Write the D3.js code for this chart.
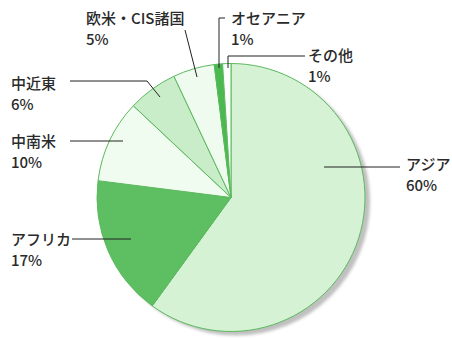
<!DOCTYPE html>
<html>
<head>
<meta charset="utf-8">
<script src="https://cdn.jsdelivr.net/npm/d3@7"></script>
<style>
  body { margin: 0; background: #fff; }
  svg { display: block; }
  text { font-family: "Noto Sans CJK JP", sans-serif; font-size: 15px; font-weight: 500; fill: #2a2a2a; }
</style>
</head>
<body>
<div id="chart"></div>
<script>
var regions = ["アジア", "アフリカ", "中南米", "中近東", "欧米・CIS諸国", "オセアニア", "その他"];
var shares = [60, 17, 10, 6, 5, 1, 1];
var fills = ["#d5f2d5", "#5ebf62", "#f0fcf0", "#c8edc8", "#eefbee", "#4cb850", "#fbfffb"];

// label placement: text position and leader points (screen px)
var labelLayout = [
  {x: 406, y: 170, line: [[400, 167], [324, 167]]},
  {x: 11, y: 245, line: [[72, 239], [131, 239]]},
  {x: 11, y: 147, line: [[70, 141], [123, 141]]},
  {x: 11, y: 89, line: [[70, 81], [147, 81], [160, 97]]},
  {x: 86, y: 24, line: [[185, 30], [197, 77]]},
  {x: 231, y: 24, line: [[225, 18], [219, 18], [219, 68]]},
  {x: 308, y: 61, line: [[305, 56], [228, 56], [228, 68]]}
];

var width = 452, height = 338,
    cx = 231, cy = 197.5, radius = 134;

var data = regions.map(function(d, i) { return {name: d, value: shares[i], i: i}; });

var svg = d3.select("#chart").append("svg")
    .attr("width", width)
    .attr("height", height);

var defs = svg.append("defs");
defs.append("filter")
    .attr("id", "blur")
    .attr("x", "-10%").attr("y", "-10%")
    .attr("width", "120%").attr("height", "120%")
  .append("feGaussianBlur")
    .attr("stdDeviation", 1.5);

// drop shadow
svg.append("circle")
    .attr("cx", cx + 5)
    .attr("cy", cy + 4)
    .attr("r", radius)
    .attr("fill", "#c0c0c0")
    .attr("filter", "url(#blur)");

var pie = d3.pie()
    .sort(null)
    .value(function(d) { return d.value; });

var arc = d3.arc()
    .innerRadius(0)
    .outerRadius(radius);

var g = svg.append("g")
    .attr("transform", "translate(" + cx + "," + cy + ")");

g.selectAll("path")
    .data(pie(data))
  .enter().append("path")
    .attr("d", arc)
    .attr("fill", function(d) { return fills[d.data.i]; })
    .attr("stroke", "#5cb95e")
    .attr("stroke-width", 1)
    .attr("stroke-linejoin", "round");

// leaders
var line = d3.line();
svg.selectAll(".leader")
    .data(labelLayout)
  .enter().append("path")
    .attr("class", "leader")
    .attr("d", function(d) { return line(d.line); })
    .attr("fill", "none")
    .attr("stroke", "#222")
    .attr("stroke-width", 1);

// labels
var labels = svg.selectAll(".label")
    .data(data)
  .enter().append("text")
    .attr("class", "label")
    .attr("x", function(d) { return labelLayout[d.i].x; })
    .attr("y", function(d) { return labelLayout[d.i].y; });

labels.append("tspan")
    .text(function(d) { return d.name; });

labels.append("tspan")
    .attr("x", function(d) { return labelLayout[d.i].x; })
    .attr("dy", 21)
    .text(function(d) { return d.value + "%"; });
</script>
</body>
</html>
